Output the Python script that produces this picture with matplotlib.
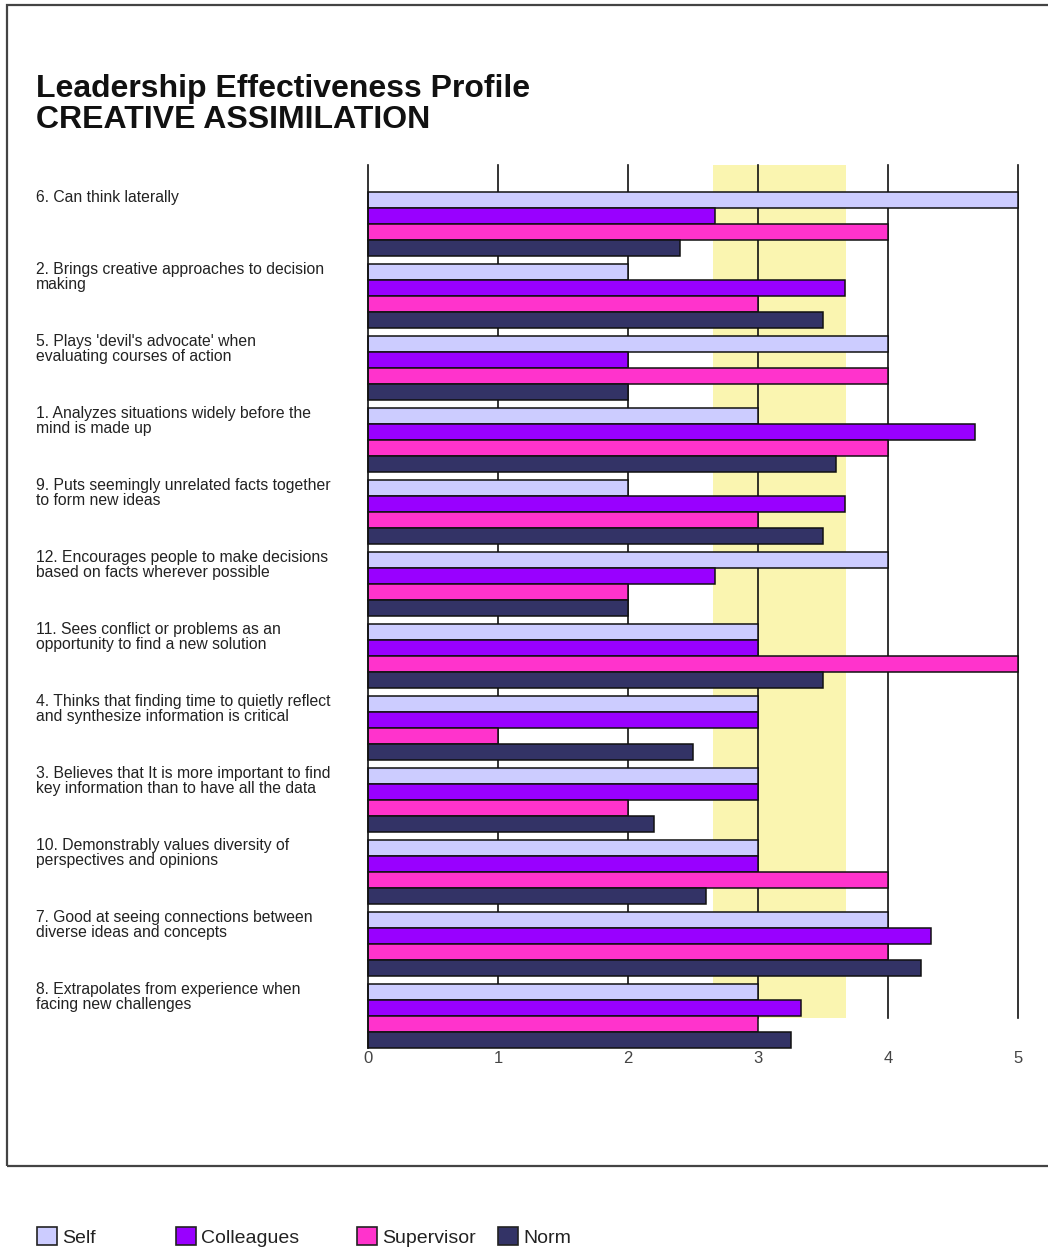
import matplotlib
matplotlib.use("Agg")
import matplotlib.pyplot as plt
from matplotlib.patches import Rectangle, Patch
from matplotlib.transforms import blended_transform_factory

plt.rcParams['font.family'] = ['Liberation Sans', 'DejaVu Sans']

title_line1 = "Leadership Effectiveness Profile"
title_line2 = "CREATIVE ASSIMILATION"

categories = [
    "6. Can think laterally",
    "2. Brings creative approaches to decision\nmaking",
    "5. Plays 'devil's advocate' when\nevaluating courses of action",
    "1. Analyzes situations widely before the\nmind is made up",
    "9. Puts seemingly unrelated facts together\nto form new ideas",
    "12. Encourages people to make decisions\nbased on facts wherever possible",
    "11. Sees conflict or problems as an\nopportunity to find a new solution",
    "4. Thinks that finding time to quietly reflect\nand synthesize information is critical",
    "3. Believes that It is more important to find\nkey information than to have all the data",
    "10. Demonstrably values diversity of\nperspectives and opinions",
    "7. Good at seeing connections between\ndiverse ideas and concepts",
    "8. Extrapolates from experience when\nfacing new challenges",
]

series_names = ["Self", "Colleagues", "Supervisor", "Norm"]
self_vals = [5, 2, 4, 3, 2, 4, 3, 3, 3, 3, 4, 3]
colleagues_vals = [2.67, 3.67, 2, 4.67, 3.67, 2.67, 3, 3, 3, 3, 4.33, 3.33]
supervisor_vals = [4, 3, 4, 4, 3, 2, 5, 1, 2, 4, 4, 3]
norm_vals = [2.4, 3.5, 2, 3.6, 3.5, 2, 3.5, 2.5, 2.2, 2.6, 4.25, 3.25]

band_range = [2.65, 3.68]
x_ticks = [0, 1, 2, 3, 4, 5]

colors = ["#CCCCFF", "#9900FF", "#FF33CC", "#333366"]

W, H = 1048, 1249
fig = plt.figure(figsize=(W / 100, H / 100), dpi=100)

# axes in pixel coords
ax_left, ax_right, ax_top, ax_bottom = 368, 1018, 165, 1048
ax = fig.add_axes([ax_left / W, 1 - ax_bottom / H,
                   (ax_right - ax_left) / W, (ax_bottom - ax_top) / H])
ax_h = ax_bottom - ax_top
ax.set_xlim(0, 5)
ax.set_ylim(ax_h, 0)

first_top = 27
group_step = 72
bar_h = 16
grid_end = 853

# band and grid
ax.fill_between(band_range, 0, grid_end, color="#FAF5B0", zorder=0, linewidth=0)
for xv in x_ticks[1:]:
    ax.plot([xv, xv], [0, grid_end], color="#111111", lw=1.2, zorder=1, clip_on=False)

all_vals = [self_vals, colleagues_vals, supervisor_vals, norm_vals]
for j, vals in enumerate(all_vals):
    tops = [first_top + group_step * i + bar_h * j for i in range(len(categories))]
    ax.barh(tops, vals, height=bar_h, align='edge', color=colors[j],
            edgecolor="#111111", linewidth=1.1, zorder=2, clip_on=False)

for s in ["top", "right", "bottom"]:
    ax.spines[s].set_visible(False)
ax.spines["left"].set_linewidth(1.2)
ax.spines["left"].set_color("#111111")
ax.set_yticks([])
ax.set_xticks(x_ticks)
ax.set_xticklabels([str(t) for t in x_ticks], fontsize=12, color="#444444")
ax.tick_params(axis='x', length=0, pad=2)
ax.patch.set_alpha(0)

# category labels
trans = blended_transform_factory(fig.transFigure, ax.transData)
for i, lab in enumerate(categories):
    ax.text(36 / W, first_top + group_step * i - 2, lab, transform=trans,
            ha='left', va='top', fontsize=11.3, color="#222222",
            linespacing=1.0, clip_on=False)

# title
fig.text(36 / W, 1 - 97 / H, title_line1, fontsize=23, fontweight='bold',
         ha='left', va='baseline', color="#111111")
fig.text(36 / W, 1 - 128 / H, title_line2, fontsize=23, fontweight='bold',
         ha='left', va='baseline', color="#111111")

# frame
fig.patches.append(Rectangle((7 / W, 1 - 1166 / H), 1.2, (1166 - 5) / H,
                             transform=fig.transFigure, fill=False,
                             edgecolor="#444444", linewidth=1.6))

# legends
leg_x = [37, 176, 357, 498]
for j, name in enumerate(series_names):
    lg = fig.legend(handles=[Patch(facecolor=colors[j], edgecolor="#222222", linewidth=1.2)],
                    labels=[name], loc='center left',
                    bbox_to_anchor=(leg_x[j] / W, 1 - 1237 / H),
                    frameon=False, fontsize=14, handlelength=1.05, handleheight=1.05,
                    handletextpad=0.25, borderaxespad=0, borderpad=0)
    for t in lg.get_texts():
        t.set_color("#222222")

fig.savefig("out.png", dpi=100)
